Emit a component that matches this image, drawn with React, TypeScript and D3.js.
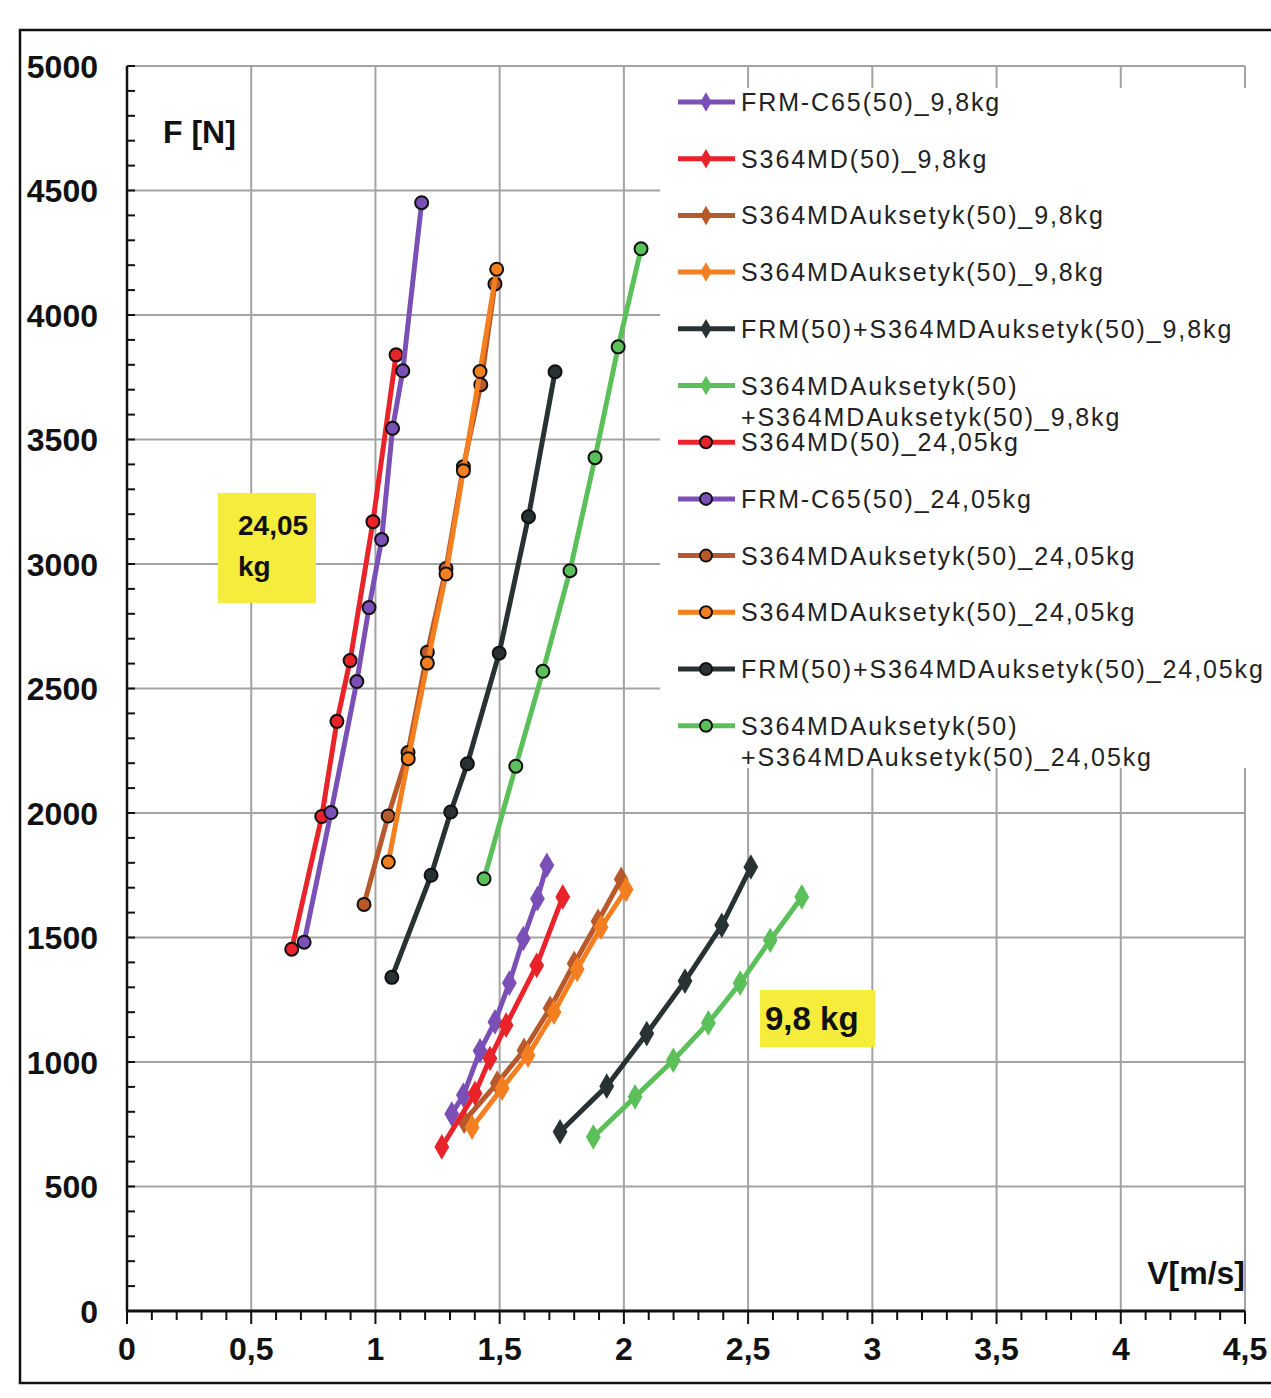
import * as d3 from 'd3';

// velocity V [m/s] and force F [N]

// 24,05 kg runs (circle markers)
const s364md_24 = [[0.663, 1453], [0.784, 1986], [0.845, 2368], [0.898, 2612], [0.990, 3170], [1.083, 3840]];
const frmC65_24 = [[0.713, 1481], [0.821, 2002], [0.925, 2528], [0.974, 2825], [1.025, 3098], [1.069, 3545], [1.110, 3776], [1.186, 4451]];
const auks_a_24 = [[0.954, 1633], [1.051, 1988], [1.131, 2243], [1.209, 2646], [1.284, 2982], [1.354, 3391], [1.424, 3720], [1.481, 4125]];
const auks_b_24 = [[1.052, 1803], [1.132, 2218], [1.209, 2602], [1.284, 2960], [1.354, 3375], [1.421, 3773], [1.488, 4184]];
const frmAuks_24 = [[1.066, 1340], [1.224, 1750], [1.303, 2004], [1.370, 2198], [1.498, 2642], [1.616, 3190], [1.723, 3772]];
const auksAuks_24 = [[1.437, 1736], [1.565, 2188], [1.674, 2569], [1.783, 2973], [1.884, 3427], [1.977, 3872], [2.069, 4266]];

// 9,8 kg runs (diamond markers)
const frmC65_98 = [[1.307, 791], [1.354, 867], [1.421, 1045], [1.481, 1161], [1.539, 1317], [1.595, 1496], [1.652, 1656], [1.690, 1790]];
const s364md_98 = [[1.267, 659], [1.401, 874], [1.461, 1014], [1.526, 1148], [1.649, 1388], [1.754, 1663]];
const auks_a_98 = [[1.357, 762], [1.490, 915], [1.598, 1047], [1.703, 1216], [1.800, 1396], [1.896, 1565], [1.989, 1734]];
const auks_b_98 = [[1.389, 738], [1.510, 895], [1.614, 1027], [1.719, 1200], [1.812, 1372], [1.908, 1541], [2.009, 1693]];
const frmAuks_98 = [[1.743, 720], [1.931, 903], [2.092, 1114], [2.246, 1325], [2.394, 1549], [2.511, 1783]];
const auksAuks_98 = [[1.877, 699], [2.045, 860], [2.199, 1007], [2.340, 1157], [2.468, 1317], [2.589, 1489], [2.716, 1663]];

const xTicks = [0, 0.5, 1, 1.5, 2, 2.5, 3, 3.5, 4, 4.5];
const yTicks = [0, 500, 1000, 1500, 2000, 2500, 3000, 3500, 4000, 4500, 5000];

const PURPLE = '#7a4fb6';
const RED = '#e8232a';
const BROWN = '#b8592b';
const ORANGE = '#f47f20';
const DARK = '#283232';
const GREEN = '#5cc05a';

const legend = [
  { lines: ['FRM-C65(50)_9,8kg'], color: PURPLE, mark: 'diamond', data: frmC65_98 },
  { lines: ['S364MD(50)_9,8kg'], color: RED, mark: 'diamond', data: s364md_98 },
  { lines: ['S364MDAuksetyk(50)_9,8kg'], color: BROWN, mark: 'diamond', data: auks_a_98 },
  { lines: ['S364MDAuksetyk(50)_9,8kg'], color: ORANGE, mark: 'diamond', data: auks_b_98 },
  { lines: ['FRM(50)+S364MDAuksetyk(50)_9,8kg'], color: DARK, mark: 'diamond', data: frmAuks_98 },
  { lines: ['S364MDAuksetyk(50)', '+S364MDAuksetyk(50)_9,8kg'], color: GREEN, mark: 'diamond', data: auksAuks_98 },
  { lines: ['S364MD(50)_24,05kg'], color: RED, mark: 'circle', data: s364md_24 },
  { lines: ['FRM-C65(50)_24,05kg'], color: PURPLE, mark: 'circle', data: frmC65_24 },
  { lines: ['S364MDAuksetyk(50)_24,05kg'], color: BROWN, mark: 'circle', data: auks_a_24 },
  { lines: ['S364MDAuksetyk(50)_24,05kg'], color: ORANGE, mark: 'circle', data: auks_b_24 },
  { lines: ['FRM(50)+S364MDAuksetyk(50)_24,05kg'], color: DARK, mark: 'circle', data: frmAuks_24 },
  { lines: ['S364MDAuksetyk(50)', '+S364MDAuksetyk(50)_24,05kg'], color: GREEN, mark: 'circle', data: auksAuks_24 },
];

const fmt = (v: number) => String(v).replace('.', ',');

export default function App() {
  const W = 1271;
  const H = 1398;
  const x = d3.scaleLinear().domain([0, 4.5]).range([127, 1245]);
  const y = d3.scaleLinear().domain([0, 5000]).range([1311, 66]);
  const line = d3
    .line<number[]>()
    .x((d) => x(d[0]))
    .y((d) => y(d[1]));
  const diamond = d3.symbol().type(d3.symbolDiamond).size(190)();
  const legDiamond = d3.symbol().type(d3.symbolDiamond).size(110)();

  const xMinor = d3.range(0, 46).map((i) => i / 10);
  const yMinor = d3.range(0, 51).map((i) => i * 100);

  const tickFont = "'Liberation Sans', Arial, sans-serif";
  const legY = (i: number) => 102 + i * 56.7;

  const marker = (s: any, d: number[], k: number) =>
    s.mark === 'circle' ? (
      <circle key={k} cx={x(d[0])} cy={y(d[1])} r={6.5} fill={s.color} stroke="#111" strokeWidth={2} />
    ) : (
      <path key={k} d={diamond} transform={`translate(${x(d[0])},${y(d[1])})`} fill={s.color} />
    );

  return (
    <svg width={W} height={H} style={{ position: 'absolute', left: 0, top: 0 }} fontFamily={tickFont}>
      <rect x={0} y={0} width={W} height={H} fill="#fff" />
      <rect x={20} y={30} width={1270} height={1353} fill="none" stroke="#111" strokeWidth={2.5} />

      {/* grid */}
      {xTicks.slice(1).map((t) => (
        <line key={'gx' + t} x1={x(t)} x2={x(t)} y1={y(5000)} y2={y(0)} stroke="#a3a3a3" strokeWidth={2} />
      ))}
      {yTicks.slice(1).map((t) => (
        <line key={'gy' + t} x1={x(0)} x2={x(4.5)} y1={y(t)} y2={y(t)} stroke="#a3a3a3" strokeWidth={2} />
      ))}

      {/* legend box hides the grid behind it */}
      <rect x={660} y={88} width={620} height={680} fill="#fff" />

      {/* series: 24,05 kg first, 9,8 kg on top */}
      {[6, 7, 8, 9, 10, 11, 2, 3, 0, 1, 4, 5].map((i) => {
        const s = legend[i];
        return (
          <g key={'s' + i}>
            <path d={line(s.data as any) || ''} fill="none" stroke={s.color} strokeWidth={5} strokeLinejoin="round" />
            {s.data.map((d, k) => marker(s, d, k))}
          </g>
        );
      })}

      {/* axes */}
      <line x1={x(0)} x2={x(0)} y1={y(5000)} y2={y(0)} stroke="#111" strokeWidth={2.5} />
      {yMinor.map((t) => (
        <line key={'ym' + t} x1={x(0)} x2={x(0) + 8} y1={y(t)} y2={y(t)} stroke="#111" strokeWidth={2} />
      ))}
      <line x1={x(0)} x2={x(4.5)} y1={y(0)} y2={y(0)} stroke="#111" strokeWidth={3} />
      {xMinor.map((t) => (
        <line
          key={'xm' + t}
          x1={x(t)}
          x2={x(t)}
          y1={y(0)}
          y2={y(0) + (Math.round(t * 10) % 5 === 0 ? 13 : 9)}
          stroke="#111"
          strokeWidth={2}
        />
      ))}
      {yTicks.map((t) => (
        <text key={'yl' + t} x={98} y={y(t)} dy="0.36em" textAnchor="end" fontSize={32} fontWeight="bold" fill="#111">
          {t}
        </text>
      ))}
      {xTicks.map((t) => (
        <text key={'xl' + t} x={x(t)} y={1360} textAnchor="middle" fontSize={32} fontWeight="bold" fill="#111">
          {fmt(t)}
        </text>
      ))}
      <text x={163} y={143} fontSize={32} fontWeight="bold" fill="#111">F [N]</text>
      <text x={1245} y={1284} textAnchor="end" fontSize={32} fontWeight="bold" fill="#111">V[m/s]</text>

      {/* legend */}
      {legend.map((s, i) => (
        <g key={'l' + i} transform={`translate(0,${legY(i)})`}>
          <line x1={678} x2={735} y1={0} y2={0} stroke={s.color} strokeWidth={5} />
          {s.mark === 'circle' ? (
            <circle cx={706} cy={0} r={6} fill={s.color} stroke="#111" strokeWidth={2} />
          ) : (
            <path d={legDiamond} transform="translate(706,0)" fill={s.color} />
          )}
          {s.lines.map((t, j) => (
            <text key={j} x={741} y={9 + j * 31} fontSize={25} letterSpacing={1.9} fill="#222">
              {t}
            </text>
          ))}
        </g>
      ))}

      {/* load annotations */}
      <rect x={218} y={493} width={98} height={110} fill="#f5ec3c" />
      <text x={238} y={535} fontSize={28} fontWeight="bold" fill="#111">24,05</text>
      <text x={238} y={576} fontSize={28} fontWeight="bold" fill="#111">kg</text>
      <rect x={760} y={990} width={115} height={57} fill="#f5ec3c" />
      <text x={765} y={1030} fontSize={33} fontWeight="bold" fill="#111">9,8 kg</text>
    </svg>
  );
}
